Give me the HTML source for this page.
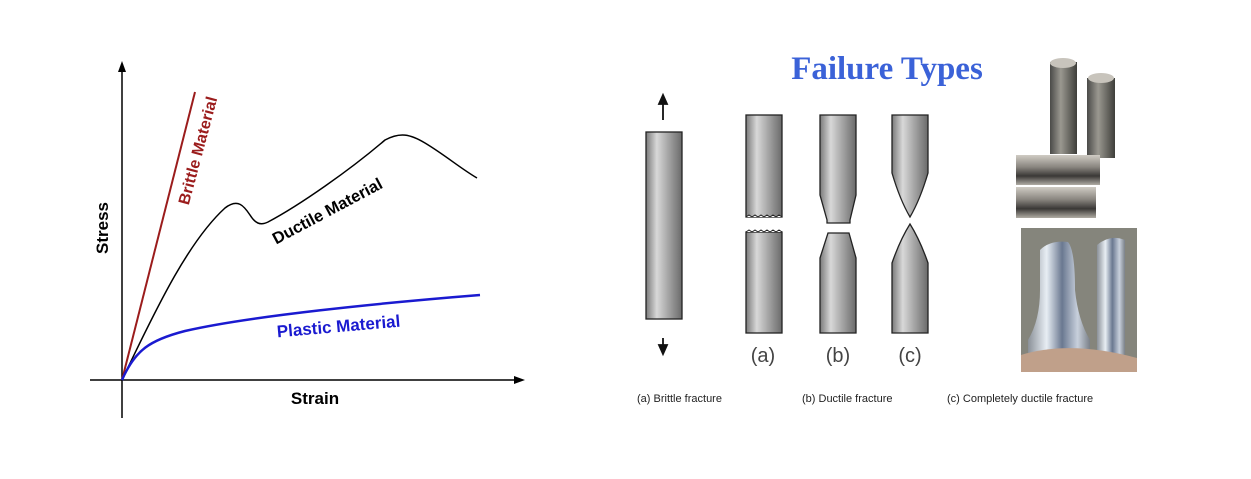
<!DOCTYPE html>
<html><head><meta charset="utf-8"><style>
html,body{margin:0;padding:0;background:#fff;}
svg{display:block;}
</style></head><body>
<svg width="1251" height="479" viewBox="0 0 1251 479" xmlns="http://www.w3.org/2000/svg">
<defs>
<linearGradient id="bar" x1="0" x2="1" y1="0" y2="0">
<stop offset="0" stop-color="#7a7a7a"/><stop offset="0.3" stop-color="#d8d8d8"/><stop offset="0.6" stop-color="#a8a8a8"/><stop offset="1" stop-color="#6a6a6a"/></linearGradient>
<linearGradient id="cyl" x1="0" x2="1"><stop offset="0" stop-color="#4a4a48"/><stop offset="0.4" stop-color="#9a9890"/><stop offset="1" stop-color="#3e3e3a"/></linearGradient>
<linearGradient id="rod" x1="0" x2="0" y1="0" y2="1"><stop offset="0" stop-color="#d0ccc4"/><stop offset="0.4" stop-color="#8a8680"/><stop offset="0.7" stop-color="#3a3836"/><stop offset="1" stop-color="#b0aca4"/></linearGradient>
<linearGradient id="pin" x1="0" x2="1"><stop offset="0" stop-color="#8a9098"/><stop offset="0.3" stop-color="#e8eef4"/><stop offset="0.55" stop-color="#6a7890"/><stop offset="0.8" stop-color="#c8d0dc"/><stop offset="1" stop-color="#7a8088"/></linearGradient>
</defs>
<!-- Left chart -->
<g fill="none">
<line x1="122" y1="418" x2="122" y2="68" stroke="#000" stroke-width="1.5"/>
<polygon points="122,61 118,72 126,72" fill="#000"/>
<line x1="90" y1="380" x2="518" y2="380" stroke="#000" stroke-width="1.5"/>
<polygon points="525,380 514,376 514,384" fill="#000"/>
<line x1="122" y1="380" x2="195" y2="92" stroke="#9b1c1c" stroke-width="2"/>
<path d="M122,380 C160,300 190,240 225,208 C238,198 244,206 250,215 C255,223 260,226 268,222 C300,205 350,170 385,140 C400,132 410,134 425,143 C445,155 460,168 477,178" stroke="#000" stroke-width="1.5"/>
<path d="M122,380 C135,350 150,340 185,331 C250,316 380,303 480,295" stroke="#1a1ad0" stroke-width="2.5"/>
</g>
<g font-family="Liberation Sans, sans-serif" font-weight="bold">
<text x="0" y="0" font-size="17" fill="#000" transform="translate(108,228) rotate(-90)" text-anchor="middle">Stress</text>
<text x="315" y="404" font-size="17" fill="#000" text-anchor="middle">Strain</text>
<text x="0" y="0" font-size="16" fill="#9b1c1c" transform="translate(203,152) rotate(-75)" text-anchor="middle">Brittle Material</text>
<text x="0" y="0" font-size="16.5" fill="#000" transform="translate(330,216) rotate(-28)" text-anchor="middle">Ductile Material</text>
<text x="0" y="0" font-size="17" fill="#1a1ad0" transform="translate(339,332) rotate(-5)" text-anchor="middle">Plastic Material</text>
</g>
<!-- Right panel -->
<text x="887" y="79" font-family="Liberation Serif, serif" font-weight="bold" font-size="33" fill="#3b62d8" text-anchor="middle">Failure Types</text>
<g stroke="#222" stroke-width="1.3" fill="url(#bar)">
<rect x="646" y="132" width="36" height="187"/>
<rect x="746" y="115" width="36" height="102"/>
<rect x="746" y="232" width="36" height="101"/>
<path d="M820,115 H856 V195 L850,220 V223 H827 V220 L820,195 Z"/>
<path d="M828,233 H849 L856,258 V333 H820 V258 Z"/>
<path d="M892,115 H928 V173 Q920,200 910,217 Q900,200 892,173 Z"/>
<path d="M910,224 Q920,240 928,263 V333 H892 V263 Q900,240 910,224 Z"/>
</g>
<g fill="#fff" stroke="#222" stroke-width="1">
<path d="M746,217 l3,-2 3,2 3,-2 3,2 3,-2 3,2 3,-2 3,2 3,-2 3,2 3,-2 3,2"/>
<path d="M746,232 l3,-2 3,2 3,-2 3,2 3,-2 3,2 3,-2 3,2 3,-2 3,2 3,-2 3,2"/>
</g>
<g stroke="#111" stroke-width="1.8" fill="#111">
<line x1="663" y1="120" x2="663" y2="102"/><polygon points="663,95 659,104 667,104"/>
<line x1="663" y1="338" x2="663" y2="347"/><polygon points="663,354 659,345 667,345"/>
</g>
<g font-family="Liberation Sans, sans-serif" font-size="20" fill="#444" text-anchor="middle">
<text x="763" y="362">(a)</text><text x="838" y="362">(b)</text><text x="910" y="362">(c)</text>
</g>
<g font-family="Liberation Sans, sans-serif" font-size="11" fill="#222">
<text x="637" y="402">(a)  Brittle fracture</text>
<text x="802" y="402">(b) Ductile fracture</text>
<text x="947" y="402">(c)  Completely ductile fracture</text>
</g>
<!-- photos -->
<rect x="1050" y="62" width="27" height="92" fill="url(#cyl)"/>
<ellipse cx="1063" cy="63" rx="13" ry="5" fill="#c8c4bc"/>
<rect x="1087" y="78" width="28" height="80" fill="url(#cyl)"/>
<ellipse cx="1101" cy="78" rx="13" ry="5" fill="#c8c4bc"/>
<rect x="1016" y="155" width="84" height="30" fill="url(#rod)"/>
<rect x="1016" y="187" width="80" height="31" fill="url(#rod)"/>
<rect x="1021" y="228" width="116" height="144" fill="#85857c"/>
<path d="M1040,250 Q1050,240 1068,242 Q1075,250 1075,290 Q1078,320 1090,340 V372 H1028 V340 Q1040,320 1040,290 Z" fill="url(#pin)"/>
<path d="M1097,245 Q1110,234 1125,240 V360 H1097 Z" fill="url(#pin)"/>
<path d="M1021,372 V355 Q1070,340 1137,358 V372 Z" fill="#c0a08a"/>
</svg>
</body></html>
